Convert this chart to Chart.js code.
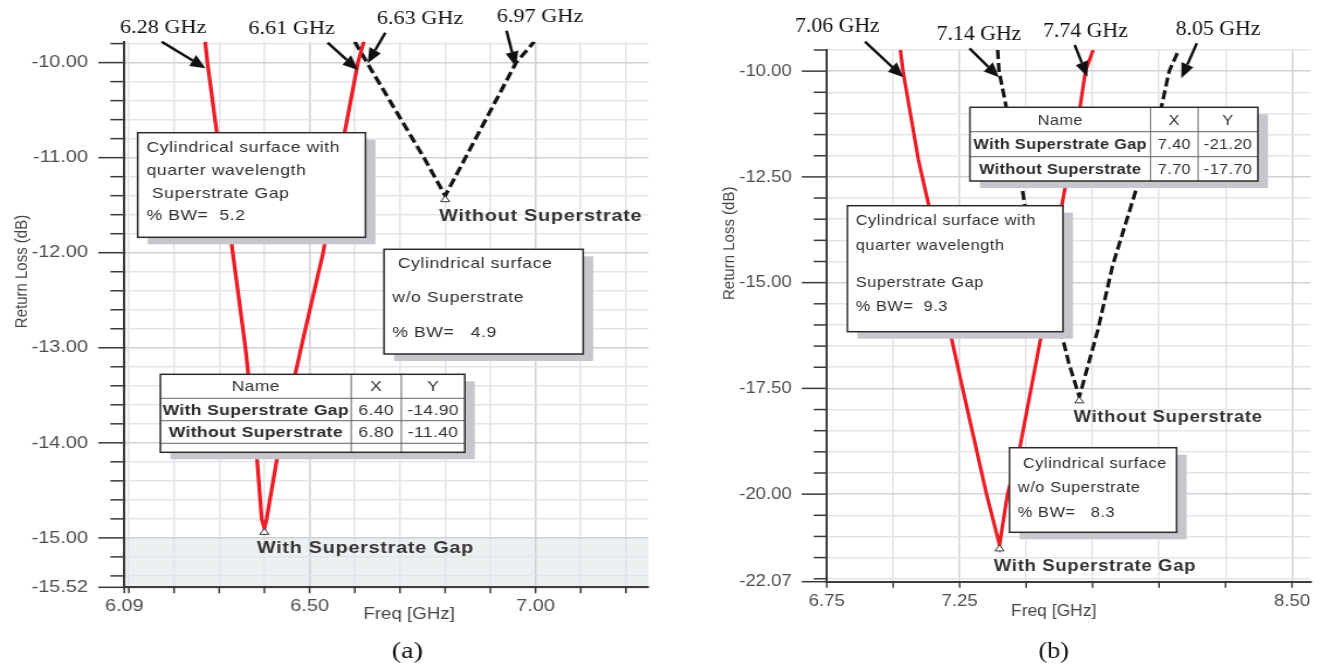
<!DOCTYPE html>
<html>
<head>
<meta charset="utf-8">
<title>Return loss with and without superstrate</title>
<script src="https://cdn.jsdelivr.net/npm/chart.js@4.4.1/dist/chart.umd.min.js"></script>
<style>
  html, body { margin: 0; padding: 0; background: #fff; }
  body { position: relative; width: 1320px; height: 669px; overflow: hidden; }
  canvas { position: absolute; top: 0; }
</style>
</head>
<body>
<canvas id="panelA" width="564" height="669" style="left:0;width:660px;height:669px"></canvas>
<canvas id="panelB" width="606" height="669" style="left:660px;width:660px;height:669px"></canvas>
<script>
/*jshint esversion: 6 */
// ---- (a) return loss ----
var freqGapA = [6.269, 6.274, 6.302, 6.330, 6.358, 6.381, 6.394, 6.400, 6.405, 6.434, 6.486, 6.530, 6.567, 6.607, 6.620];
var lossGapA = [-9.78, -10.00, -11.00, -12.00, -13.00, -14.00, -14.80, -14.90, -14.80, -14.00, -12.90, -12.00, -11.00, -10.00, -9.78];
var freqNoSupA = [6.600, 6.627, 6.753, 6.800, 6.845, 6.957, 6.997];
var lossNoSupA = [-9.78, -10.00, -11.00, -11.40, -11.00, -10.00, -9.78];
var markFreqA = [6.40, 6.80];
var markLossA = [-14.90, -11.40];
var shadeA = [-15.52, -15.00];
var xTicksA = [6.09, 6.1, 6.2, 6.3, 6.4, 6.5, 6.6, 6.7, 6.8, 6.9, 7.0, 7.1, 7.2];
var xLabelsA = [6.09, 6.5, 7.0];
var yMajorA = [-15.52, -15, -14, -13, -12, -11, -10];
var yTicksA = [-15.52].concat(steps(-15.4, -9.8, 0.2));

// ---- (b) return loss ----
var freqGapB = [7.027, 7.037, 7.095, 7.134, 7.212, 7.261, 7.351, 7.400, 7.430, 7.476, 7.561, 7.634, 7.703, 7.723, 7.752];
var lossGapB = [-9.50, -10.00, -12.10, -13.18, -16.11, -17.50, -20.00, -21.20, -20.00, -18.91, -16.11, -13.18, -10.84, -10.00, -9.50];
var freqNoSupB = [7.393, 7.398, 7.425, 7.480, 7.495, 7.629, 7.660, 7.700, 7.770, 7.825, 7.925, 8.009, 8.038, 8.074];
var lossNoSupB = [-9.50, -10.00, -10.84, -12.57, -13.18, -16.11, -16.89, -17.70, -16.11, -14.60, -12.57, -10.84, -10.00, -9.50];
var markFreqB = [7.40, 7.70];
var markLossB = [-21.20, -17.70];
var xTicksB = [6.75, 7.0, 7.25, 7.5, 7.75, 8.0, 8.25, 8.5];
var xLabelsB = [6.75, 7.25, 8.5];
var yMajorB = [-22.07, -20, -17.5, -15, -12.5, -10];
var yTicksB = [-22.07].concat(steps(-22.0, -9.5, 0.5));

var rowNames = ['With Superstrate Gap', 'Without Superstrate'];

var SANS = '"Liberation Sans", Arial, sans-serif';
var SERIF = '"Liberation Serif", "Times New Roman", serif';
var SHADOW = '#c5c7cd';

function steps(from, to, step) {
	var out = [];
	for (var v = from; v <= to + 1e-9; v += step) {
		out.push(Math.round(v * 100) / 100);
	}
	return out;
}
function pairs(xs, ys) {
	return xs.map(function(x, i) { return { x: x, y: ys[i] }; });
}
function has(list, v) {
	return list.some(function(m) { return Math.abs(m - v) < 1e-6; });
}

// layout of the annotations, in page pixels relative to each panel
var notesA = {
	freqFont: 19,
	freqLabels: [['6.28 GHz', 120, 28], ['6.61 GHz', 248.4, 29.3], ['6.63 GHz', 376.8, 19.3], ['6.97 GHz', 496.8, 16.7]],
	arrows: [[161.7, 41.7, 205.5, 68.3], [327.6, 42.7, 357.9, 70], [385.3, 32.7, 367.6, 63.3], [506.5, 30.7, 515.8, 66.7]],
	boxes: [
		{ x0: 137.7, y0: 132.7, x1: 365.5, y1: 237.3,
		  lines: [['Cylindrical surface with', 146.5, 146.7], ['quarter wavelength', 146.5, 170], [' Superstrate Gap', 146.5, 192.7], ['% BW=  5.2', 146.5, 215]] },
		{ x0: 384, y0: 249.3, x1: 583.2, y1: 354,
		  lines: [[' Cylindrical surface', 392.4, 263.3], ['w/o Superstrate', 392.4, 296.7], ['% BW=   4.9', 392.4, 331.7]] }
	],
	table: { x0: 160.4, y0: 374.3, x1: 464.8, y1: 452.3, cols: [351.2, 401.3], rows: [398.3, 420.7, 443.3] },
	curveLabels: [['Without Superstrate', 439, 215], ['With Superstrate Gap', 256.8, 547.3]],
	yTitle: [22, 271.5], xTitle: [409, 614.3], caption: ['(a)', 407.4, 651.7]
};
var notesB = {
	freqFont: 20,
	freqLabels: [['7.06 GHz', 135, 26.7], ['7.14 GHz', 276.6, 35], ['7.74 GHz', 383.2, 31.7], ['8.05 GHz', 515.8, 29.3]],
	arrows: [[205, 41.7, 243.3, 77.3], [309.5, 48.3, 339, 77.3], [414.7, 45, 427.4, 76.7], [536.8, 43.3, 521.3, 78.3]],
	boxes: [
		{ x0: 187.4, y0: 205.7, x1: 403, y1: 331.7,
		  lines: [['Cylindrical surface with', 195.8, 220], ['quarter wavelength', 195.8, 245], ['Superstrate Gap', 195.8, 281.7], ['% BW=  9.3', 195.8, 306]] },
		{ x0: 349.5, y0: 447.7, x1: 516.6, y1: 532.3,
		  lines: [[' Cylindrical surface', 357.9, 462.7], ['w/o Superstrate', 357.9, 486.7], ['% BW=   8.3', 357.9, 511.7]] }
	],
	table: { x0: 309.9, y0: 107.3, x1: 597.9, y1: 181, cols: [490.5, 538.1], rows: [131.7, 156.7] },
	curveLabels: [['Without Superstrate', 413.5, 416.7], ['With Superstrate Gap', 333.9, 565]],
	yTitle: [69.5, 243.3], xTitle: [393.7, 611.7], caption: ['(b)', 393.7, 651.7]
};

function put(ctx, s, x, y, font, align, spacing, color) {
	ctx.font = font;
	ctx.textAlign = align || 'left';
	ctx.textBaseline = 'middle';
	ctx.letterSpacing = (spacing || 0) + 'px';
	ctx.fillStyle = color || '#2e2e2e';
	ctx.fillText(s, x, y);
	ctx.letterSpacing = '0px';
}

function notesPlugin(p) {
	var n = p.notes;
	var X = function(v) { return v / p.sx; };
	return {
		id: 'notes',
		beforeDraw: function(chart) {
			if (!p.shade) return;
			var a = chart.chartArea, ys = chart.scales.y, ctx = chart.ctx;
			var top = ys.getPixelForValue(p.shade[1]), bottom = ys.getPixelForValue(p.shade[0]);
			ctx.save();
			ctx.fillStyle = '#edf0f0';
			ctx.fillRect(a.left, top, a.right - a.left, bottom - top);
			ctx.restore();
		},
		afterDraw: function(chart) {
			var ctx = chart.ctx, a = chart.chartArea;
			var xs = chart.scales.x, ys = chart.scales.y;
			ctx.save();

			// tick marks
			ctx.strokeStyle = '#3a3a3a';
			ctx.lineWidth = 1.5;
			ys.ticks.forEach(function(t) {
				var y = ys.getPixelForValue(t.value);
				var len = has(p.yMajor, t.value) ? p.majorTick : p.minorTick;
				ctx.beginPath(); ctx.moveTo(a.left - X(len), y); ctx.lineTo(a.left, y); ctx.stroke();
			});
			xs.ticks.forEach(function(t) {
				var x = xs.getPixelForValue(t.value);
				ctx.beginPath(); ctx.moveTo(x, a.bottom); ctx.lineTo(x, a.bottom + 6); ctx.stroke();
			});

			// minimum markers
			p.markF.forEach(function(f, i) {
				var x = xs.getPixelForValue(f), y = ys.getPixelForValue(p.markL[i]);
				ctx.beginPath();
				ctx.moveTo(x, y); ctx.lineTo(x - X(4.5), y + 6); ctx.lineTo(x + X(4.5), y + 6); ctx.closePath();
				ctx.fillStyle = '#fff'; ctx.fill();
				ctx.strokeStyle = '#333'; ctx.lineWidth = 1; ctx.stroke();
			});

			n.curveLabels.forEach(function(c) {
				put(ctx, c[0], X(c[1]), c[2] + 1, 'bold 17px ' + SANS, 'left', 0.6, '#333');
			});

			// text boxes with drop shadow
			n.boxes.forEach(function(b) {
				var w = b.x1 - b.x0, h = b.y1 - b.y0;
				ctx.fillStyle = SHADOW; ctx.fillRect(X(b.x0 + 10), b.y0 + 7, X(w), h);
				ctx.fillStyle = '#fff'; ctx.fillRect(X(b.x0), b.y0, X(w), h);
				ctx.strokeStyle = '#2b2b2b'; ctx.lineWidth = 1.5; ctx.strokeRect(X(b.x0), b.y0, X(w), h);
				b.lines.forEach(function(l) {
					put(ctx, l[0], X(l[1]), l[2] + 1, '15px ' + SANS, 'left', 0.5, '#2e2e2e');
				});
			});

			// marker table
			var tb = n.table, tw = tb.x1 - tb.x0, th = tb.y1 - tb.y0;
			ctx.fillStyle = SHADOW; ctx.fillRect(X(tb.x0 + 10), tb.y0 + 7, X(tw), th);
			ctx.fillStyle = '#fff'; ctx.fillRect(X(tb.x0), tb.y0, X(tw), th);
			ctx.strokeStyle = '#666'; ctx.lineWidth = 1;
			tb.cols.forEach(function(c) {
				ctx.beginPath(); ctx.moveTo(X(c), tb.y0); ctx.lineTo(X(c), tb.y1); ctx.stroke();
			});
			tb.rows.forEach(function(r) {
				ctx.beginPath(); ctx.moveTo(X(tb.x0), r); ctx.lineTo(X(tb.x1), r); ctx.stroke();
			});
			ctx.strokeStyle = '#2b2b2b'; ctx.lineWidth = 1.5; ctx.strokeRect(X(tb.x0), tb.y0, X(tw), th);
			var cx = [(tb.x0 + tb.cols[0]) / 2, (tb.cols[0] + tb.cols[1]) / 2, (tb.cols[1] + tb.x1) / 2];
			var bands = [tb.y0].concat(tb.rows, [tb.y1]);
			var mid = function(i) { return (bands[i] + bands[i + 1]) / 2 + 1; };
			['Name', 'X', 'Y'].forEach(function(s, j) {
				put(ctx, s, X(cx[j]), mid(0), '15px ' + SANS, 'center', 0.3, '#333');
			});
			rowNames.forEach(function(name, i) {
				put(ctx, name, X(cx[0]), mid(i + 1), 'bold 15px ' + SANS, 'center', 0.3, '#2a2a2a');
				put(ctx, p.markF[i].toFixed(2), X(cx[1]), mid(i + 1), '15px ' + SANS, 'center', 0.3, '#333');
				put(ctx, p.markL[i].toFixed(2), X(cx[2]), mid(i + 1), '15px ' + SANS, 'center', 0.3, '#333');
			});

			// frequency call-outs with arrows
			n.freqLabels.forEach(function(f) {
				put(ctx, f[0], X(f[1]), f[2], n.freqFont + 'px ' + SERIF, 'left', 0, '#111');
			});
			ctx.strokeStyle = '#111'; ctx.fillStyle = '#111'; ctx.lineWidth = 2.5;
			n.arrows.forEach(function(ar) {
				var dx = ar[2] - ar[0], dy = ar[3] - ar[1], d = Math.hypot(dx, dy);
				var ux = dx / d, uy = dy / d, hl = 15, hw = 6.5;
				var bx = ar[2] - ux * hl, by = ar[3] - uy * hl;
				ctx.beginPath(); ctx.moveTo(X(ar[0]), ar[1]); ctx.lineTo(X(bx), by); ctx.stroke();
				ctx.beginPath();
				ctx.moveTo(X(ar[2]), ar[3]);
				ctx.lineTo(X(bx - uy * hw), by + ux * hw);
				ctx.lineTo(X(bx + uy * hw), by - ux * hw);
				ctx.closePath(); ctx.fill();
			});

			// axis titles and caption
			put(ctx, 'Freq [GHz]', X(n.xTitle[0]), n.xTitle[1], '16px ' + SANS, 'center', 0, '#444');
			ctx.save();
			ctx.translate(X(n.yTitle[0]), n.yTitle[1]);
			ctx.rotate(-Math.PI / 2);
			put(ctx, 'Return Loss (dB)', 0, 0, '15px ' + SANS, 'center', 0, '#444');
			ctx.restore();
			put(ctx, n.caption[0], X(n.caption[1]), n.caption[2], '24px ' + SERIF, 'center', 0, '#111');

			ctx.restore();
		}
	};
}

function buildPanel(p) {
	var canvas = document.getElementById(p.id);
	p.sx = 660 / canvas.width;
	var X = function(v) { return v / p.sx; };
	var tickFont = { family: SANS, size: 17 };
	return new Chart(canvas, {
		type: 'line',
		data: {
			datasets: [{
				label: rowNames[0],
				data: pairs(p.gapF, p.gapL),
				borderColor: '#ec1d25',
				borderWidth: 3.3,
				pointRadius: 0,
				tension: 0
			}, {
				label: rowNames[1],
				data: pairs(p.noF, p.noL),
				borderColor: '#151515',
				borderWidth: 3.3,
				borderDash: [9, 4],
				pointRadius: 0,
				tension: 0
			}]
		},
		options: {
			responsive: false,
			animation: false,
			devicePixelRatio: 1,
			layout: { padding: { top: p.top, right: X(p.right), left: 0, bottom: 0 } },
			plugins: { legend: { display: false }, tooltip: { enabled: false } },
			scales: {
				x: {
					type: 'linear',
					min: p.xMin,
					max: p.xMax,
					afterBuildTicks: function(s) { s.ticks = p.xTicks.map(function(v) { return { value: v }; }); },
					afterFit: function(s) { s.height = 669 - p.bottom; },
					grid: {
						color: function(c) { return has(p.xLabels, c.tick.value) ? '#d0d2d8' : '#e3e4e9'; },
						lineWidth: 1.5,
						drawTicks: false
					},
					border: { display: true, color: '#3d3d3d', width: 2 },
					ticks: {
						autoSkip: false, maxRotation: 0, padding: p.xPad,
						color: '#4d4d4d', font: tickFont,
						callback: function(v) { return has(p.xLabels, v) ? v.toFixed(2) : ''; }
					}
				},
				y: {
					type: 'linear',
					min: p.yMin,
					max: p.yMax,
					afterBuildTicks: function(s) { s.ticks = p.yTicks.map(function(v) { return { value: v }; }); },
					afterFit: function(s) { s.width = X(p.left); },
					grid: {
						color: function(c) { return has(p.yMajor, c.tick.value) ? '#cfd1d7' : '#e4e5ea'; },
						lineWidth: 1.5,
						drawTicks: false
					},
					border: { display: true, color: '#3d3d3d', width: 2 },
					ticks: {
						autoSkip: false, padding: X(p.left - p.labelRight),
						color: '#4d4d4d', font: tickFont,
						callback: function(v) { return has(p.yMajor, v) ? v.toFixed(2) : ''; }
					}
				}
			}
		},
		plugins: [notesPlugin(p)]
	});
}

buildPanel({
	id: 'panelA', notes: notesA,
	gapF: freqGapA, gapL: lossGapA, noF: freqNoSupA, noL: lossNoSupA,
	markF: markFreqA, markL: markLossA, shade: shadeA,
	xMin: 6.09, xMax: 7.25, xTicks: xTicksA, xLabels: xLabelsA,
	yMin: -15.52, yMax: -9.78, yTicks: yTicksA, yMajor: yMajorA,
	left: 124.3, right: 11.5, top: 41.7, bottom: 587.3, labelRight: 88,
	xPad: 8.5, majorTick: 26, minorTick: 14
});

buildPanel({
	id: 'panelB', notes: notesB,
	gapF: freqGapB, gapL: lossGapB, noF: freqNoSupB, noL: lossNoSupB,
	markF: markFreqB, markL: markLossB, shade: null,
	xMin: 6.75, xMax: 8.57, xTicks: xTicksB, xLabels: xLabelsB,
	yMin: -22.07, yMax: -9.5, yTicks: yTicksB, yMajor: yMajorB,
	left: 166.7, right: 1, top: 50, bottom: 581.7, labelRight: 131.7,
	xPad: 9.1, majorTick: 25, minorTick: 13
});
</script>
</body>
</html>
